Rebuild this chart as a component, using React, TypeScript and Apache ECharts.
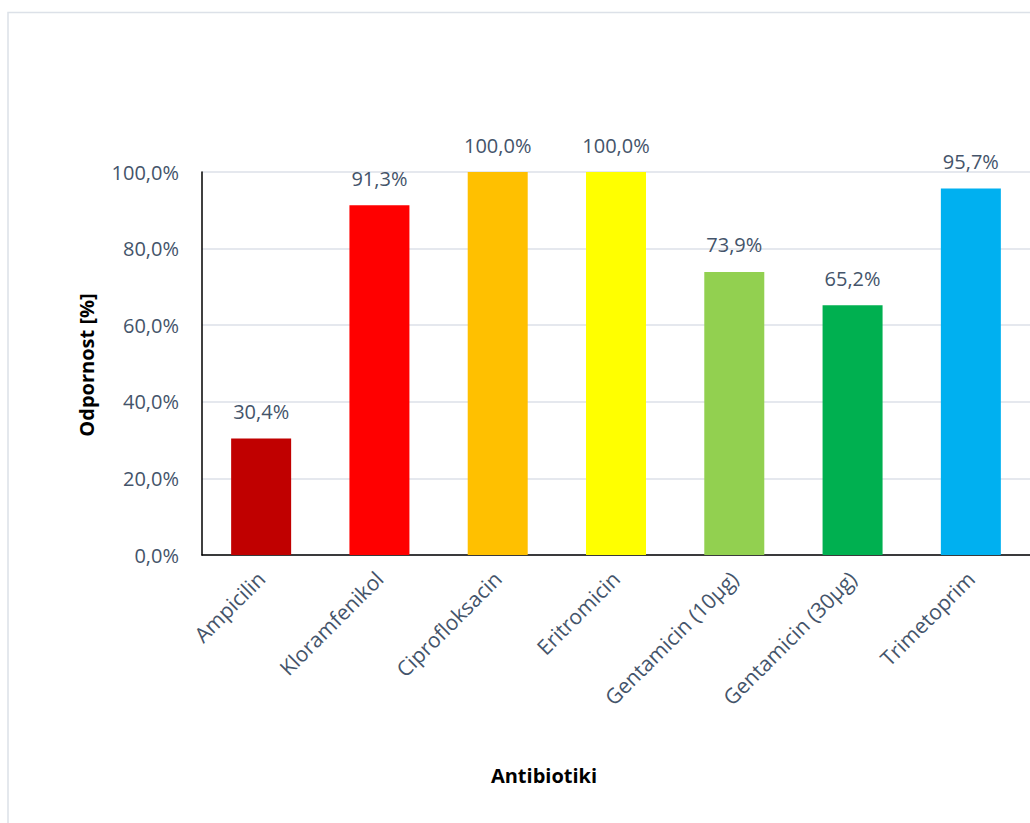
import React, { useEffect, useRef } from "react";
import * as echarts from "echarts";

const categories = [
  "Ampicilin",
  "Kloramfenikol",
  "Ciprofloksacin",
  "Eritromicin",
  "Gentamicin (10µg)",
  "Gentamicin (30µg)",
  "Trimetoprim",
];
const values = [30.4, 91.3, 100.0, 100.0, 73.9, 65.2, 95.7];
const barColors = ["#C00000", "#FF0000", "#FFC000", "#FFFF00", "#92D050", "#00B050", "#00B0F0"];
const yTicks = [0, 20, 40, 60, 80, 100];
const yAxisTitle = "Odpornost [%]";
const xAxisTitle = "Antibiotiki";

const fmt = (v: number) => v.toFixed(1).replace(".", ",") + "%";

const FONT = "'Open Sans', 'Noto Sans', sans-serif";
const TEXT = "#44546A";

export default function App() {
  const ref = useRef<HTMLDivElement>(null);
  useEffect(() => {
    if (!ref.current) return;
    const chart = echarts.init(ref.current, undefined, { renderer: "svg" });
    chart.setOption({
      animation: false,
      backgroundColor: "#ffffff",
      grid: { left: 202, right: -1, top: 172, bottom: 823 - 555, containLabel: false },
      xAxis: {
        type: "category",
        data: categories,
        axisLine: { show: true, lineStyle: { color: "#000000", width: 1.5 } },
        axisTick: { show: false },
        axisLabel: {
          rotate: 45,
          interval: 0,
          margin: 20,
          fontFamily: FONT,
          fontSize: 21,
          color: TEXT,
        },
      },
      yAxis: {
        type: "value",
        min: yTicks[0],
        max: yTicks[yTicks.length - 1],
        interval: 20,
        axisLine: { show: true, lineStyle: { color: "#000000", width: 1.5 } },
        axisTick: { show: false },
        splitLine: { show: true, lineStyle: { color: "#DCE1E8", width: 1.5 } },
        axisLabel: {
          margin: 23,
          fontFamily: FONT,
          fontSize: 20,
          color: TEXT,
          formatter: (v: number) => fmt(v),
        },
      },
      series: [
        {
          type: "bar",
          barWidth: 60,
          data: values.map((v, i) => ({ value: v, itemStyle: { color: barColors[i] } })),
          label: {
            show: true,
            position: "top",
            distance: 17,
            fontFamily: FONT,
            fontSize: 20,
            color: TEXT,
            formatter: (p: any) => fmt(p.value),
          },
        },
      ],
      graphic: [
        {
          type: "rect",
          silent: true,
          shape: { x: 8, y: 12.5, width: 1100, height: 900 },
          style: { fill: "none", stroke: "#DCE1E8", lineWidth: 1.5 },
          z: -10,
        },
        {
          type: "text",
          x: 86,
          y: 365,
          rotation: Math.PI / 2,
          style: {
            text: yAxisTitle,
            font: `bold 20px ${FONT}`,
            fill: "#000000",
            textAlign: "center",
            textVerticalAlign: "middle",
          },
        },
        {
          type: "text",
          x: 544,
          y: 775,
          style: {
            text: xAxisTitle,
            font: `bold 20px ${FONT}`,
            fill: "#000000",
            textAlign: "center",
            textVerticalAlign: "middle",
          },
        },
      ],
    });
    return () => chart.dispose();
  }, []);
  return (
    <div
      ref={ref}
      style={{ position: "fixed", left: 0, top: 0, width: 1030, height: 823, background: "#fff" }}
    />
  );
}
